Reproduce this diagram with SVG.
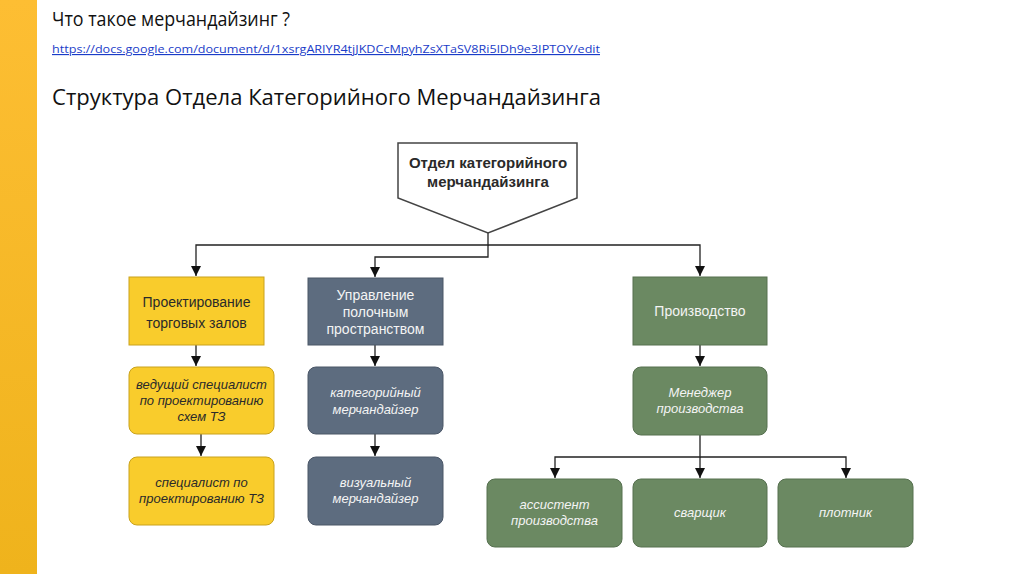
<svg xmlns="http://www.w3.org/2000/svg" width="1024" height="574" viewBox="0 0 1024 574">
<defs>
<linearGradient id="bar" x1="0" y1="0" x2="0" y2="1">
<stop offset="0" stop-color="#FDBE33"/>
<stop offset="1" stop-color="#EFB31C"/>
</linearGradient>
<marker id="arr" viewBox="0 0 10 10" refX="10" refY="5" markerWidth="10" markerHeight="10" markerUnits="userSpaceOnUse" orient="auto">
<path d="M0,0 L10,5 L0,10 Z" fill="#111"/>
</marker>
</defs>
<style>
.t{font-family:"Liberation Sans",Arial,sans-serif;text-anchor:middle;font-size:14px}
.i{font-style:italic;font-size:13px}
.b{font-weight:bold;font-size:15px}
.dk{fill:#2a2a2a}
.wt{fill:#f4f4f4}
.y{fill:#F9CC2C;stroke:#C9A21C;stroke-width:1}
.g{fill:#5D6C7F;stroke:#4A5667;stroke-width:1}
.gr{fill:#6B8962;stroke:#56704F;stroke-width:1}
.c{fill:none;stroke:#222;stroke-width:1.3}
.h{font-family:"Open Sans","Liberation Sans",sans-serif;fill:#111}
</style>
<rect x="0" y="0" width="1024" height="574" fill="#fff"/>
<rect x="0" y="0" width="37" height="574" fill="url(#bar)"/>

<text class="h" x="52" y="26" font-size="20" textLength="238" lengthAdjust="spacingAndGlyphs">Что такое мерчандайзинг ?</text>
<text x="52" y="53" font-family="'Open Sans','Liberation Sans',sans-serif" font-size="11.5" fill="#1a3cc8" text-decoration="underline" textLength="548" lengthAdjust="spacingAndGlyphs">https://docs.google.com/document/d/1xsrgARIYR4tjJKDCcMpyhZsXTaSV8Ri5lDh9e3IPTOY/edit</text>
<text class="h" x="52" y="105" font-size="22" textLength="549" lengthAdjust="spacingAndGlyphs">Структура Отдела Категорийного Мерчандайзинга</text>

<g id="connectors">
<polyline class="c" points="488,233 488,245 196,245 196,276" marker-end="url(#arr)"/>
<polyline class="c" points="488,245 700,245 700,276" marker-end="url(#arr)"/>
<polyline class="c" points="488,245 488,257 375,257 375,277" marker-end="url(#arr)"/>
<line class="c" x1="196" y1="345" x2="196" y2="366" marker-end="url(#arr)"/>
<line class="c" x1="201" y1="434" x2="201" y2="456" marker-end="url(#arr)"/>
<line class="c" x1="375" y1="345" x2="375" y2="366" marker-end="url(#arr)"/>
<line class="c" x1="375" y1="434" x2="375" y2="456" marker-end="url(#arr)"/>
<line class="c" x1="700" y1="345" x2="700" y2="366" marker-end="url(#arr)"/>
<polyline class="c" points="700,435 700,457 555,457 555,478" marker-end="url(#arr)"/>
<line class="c" x1="700" y1="457" x2="700" y2="478" marker-end="url(#arr)"/>
<polyline class="c" points="700,457 846,457 846,478" marker-end="url(#arr)"/>
</g>

<g id="root">
<polygon points="398,143 577,143 577,198 488,233 398,198" fill="#fff" stroke="#444" stroke-width="1.5"/>
<text class="t b dk" x="488" y="168">Отдел категорийного</text>
<text class="t b dk" x="488" y="187">мерчандайзинга</text>
</g>

<g id="design">
<rect class="y" x="129" y="277" width="135" height="68"/>
<text class="t dk" x="196.5" y="307">Проектирование</text>
<text class="t dk" x="196.5" y="328">торговых залов</text>
</g>
<g id="shelf">
<rect class="g" x="308" y="278" width="135" height="67"/>
<text class="t wt" x="375.5" y="300">Управление</text>
<text class="t wt" x="375.5" y="317">полочным</text>
<text class="t wt" x="375.5" y="334">пространством</text>
</g>
<g id="production">
<rect class="gr" x="633" y="277" width="134" height="68"/>
<text class="t wt" x="700" y="316">Производство</text>
</g>

<g id="lead-specialist">
<rect class="y" x="129" y="367" width="145" height="67" rx="8"/>
<text class="t i dk" x="201.5" y="389">ведущий специалист</text>
<text class="t i dk" x="201.5" y="405">по проектированию</text>
<text class="t i dk" x="201.5" y="421">схем ТЗ</text>
</g>
<g id="specialist">
<rect class="y" x="129" y="457" width="145" height="68" rx="8"/>
<text class="t i dk" x="201.5" y="487">специалист по</text>
<text class="t i dk" x="201.5" y="503">проектированию ТЗ</text>
</g>
<g id="cat-merch">
<rect class="g" x="308" y="367" width="135" height="67" rx="8"/>
<text class="t i wt" x="375.5" y="397">категорийный</text>
<text class="t i wt" x="375.5" y="414">мерчандайзер</text>
</g>
<g id="vis-merch">
<rect class="g" x="308" y="457" width="135" height="68" rx="8"/>
<text class="t i wt" x="375.5" y="487">визуальный</text>
<text class="t i wt" x="375.5" y="503">мерчандайзер</text>
</g>
<g id="manager">
<rect class="gr" x="633" y="367" width="134" height="68" rx="8"/>
<text class="t i wt" x="700" y="397">Менеджер</text>
<text class="t i wt" x="700" y="413">производства</text>
</g>
<g id="assistant">
<rect class="gr" x="487" y="479" width="135" height="68" rx="8"/>
<text class="t i wt" x="554.5" y="509">ассистент</text>
<text class="t i wt" x="554.5" y="525">производства</text>
</g>
<g id="welder">
<rect class="gr" x="633" y="479" width="134" height="68" rx="8"/>
<text class="t i wt" x="700" y="517">сварщик</text>
</g>
<g id="carpenter">
<rect class="gr" x="778" y="479" width="135" height="68" rx="8"/>
<text class="t i wt" x="845.5" y="517">плотник</text>
</g>
</svg>
